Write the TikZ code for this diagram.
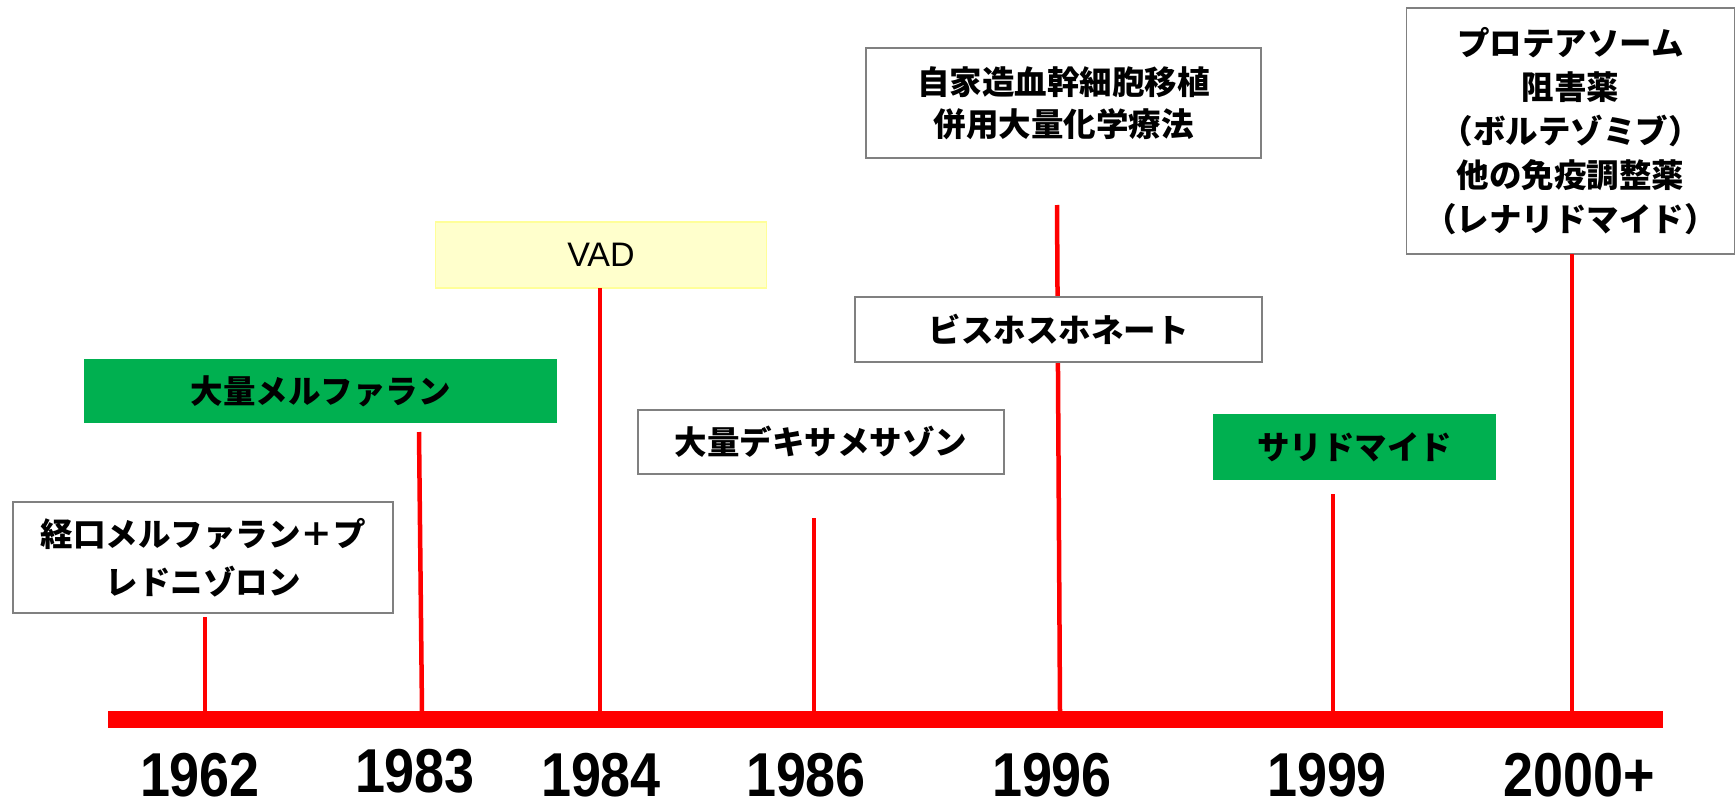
\documentclass[tikz,border=0pt]{standalone}
\usepackage{fontspec}
\setmainfont{Liberation Sans}
\newfontfamily\jp{Noto Sans CJK JP}
\newfontfamily\yr{Liberation Sans}
\definecolor{tlred}{HTML}{FF0000}
\definecolor{boxgreen}{HTML}{00B050}
\definecolor{paleyellow}{HTML}{FFFFCC}
\definecolor{yellowedge}{HTML}{FFFF99}
\definecolor{edgegray}{HTML}{808080}
\begin{document}
\begin{tikzpicture}[x=1pt,y=-1pt,
  every node/.style={inner sep=0pt,outer sep=0pt},
  jptext/.style={font=\jp\bfseries\fontsize{32.5}{44}\selectfont,align=center},
  whitebox/.style={jptext,draw=edgegray,line width=1.6pt,fill=white,rectangle},
  greenbox/.style={jptext,fill=boxgreen,rectangle},
  yellowbox/.style={font=\fontsize{34}{40}\selectfont,fill=paleyellow,draw=yellowedge,line width=1.2pt,rectangle},
  tick/.style={draw=tlred,line width=4.5pt},
  yearlbl/.style={font=\yr\bfseries\fontsize{62}{62}\selectfont,xscale=0.87,anchor=base,text depth=0pt}]
\useasboundingbox (0,0) rectangle (1736,808);
\fill[white] (0,0) rectangle (1736,808);

% tick end points
\coordinate (t62) at (205,617);   \coordinate (b62) at (205,712);
\coordinate (t83) at (419,432);   \coordinate (b83) at (422,712);
\coordinate (b84) at (600,712);
\coordinate (t86) at (814,518);   \coordinate (b86) at (814,712);
\coordinate (t96) at (1057,205);  \coordinate (b96) at (1060,712);
\coordinate (t99) at (1333,494);  \coordinate (b99) at (1333,712);
\coordinate (b00) at (1572,712);

% boxes
\node[whitebox,minimum width=380pt,minimum height=111pt] (mp) at (203,557.5) {経口メルファラン＋プ\\[4pt]レドニゾロン};
\node[greenbox,minimum width=473pt,minimum height=64pt] (hdm) at (320.5,391) {大量メルファラン};
\node[yellowbox,minimum width=331pt,minimum height=66pt] (vad) at (601,255) {VAD};
\node[whitebox,minimum width=366pt,minimum height=64pt] (dex) at (821,442) {大量デキサメサゾン};
\node[whitebox,minimum width=395pt,minimum height=110pt] (asct) at (1063.5,103) {自家造血幹細胞移植\\[-2pt]併用大量化学療法};
\node[greenbox,minimum width=283pt,minimum height=66pt] (thal) at (1354.5,447) {サリドマイド};
\node[whitebox,minimum width=328pt,minimum height=246pt] (pi) at (1570.5,131) {プロテアソーム\\阻害薬\\（ボルテゾミブ）\\他の免疫調整薬\\（レナリドマイド）};

% ticks
\draw[tick] (t62) -- (b62);
\draw[tick] (t83) -- (b83);
\draw[tick] (vad.south -| b84) -- (b84);
\draw[tick] (t86) -- (b86);
\draw[tick] (t96) -- (b96);
\draw[tick] (t99) -- (b99);
\draw[tick] (pi.south -| b00) -- (b00);

% box drawn over the 1996 tick
\node[whitebox,minimum width=407pt,minimum height=65pt] (bis) at (1058.5,329.5) {ビスホスホネート};

% main bar
\node[fill=tlred,minimum width=1555pt,minimum height=17pt,rectangle] (bar) at (885.5,719.5) {};

% years
\node[yearlbl] (y62) at (200,796) {1962};
\node[yearlbl] (y83) at (415,792) {1983};
\node[yearlbl] (y84) at (601,796) {1984};
\node[yearlbl] (y86) at (806,796) {1986};
\node[yearlbl] (y96) at (1052,796) {1996};
\node[yearlbl] (y99) at (1327,796) {1999};
\node[yearlbl] (y00) at (1579,796) {2000+};
\end{tikzpicture}
\end{document}
